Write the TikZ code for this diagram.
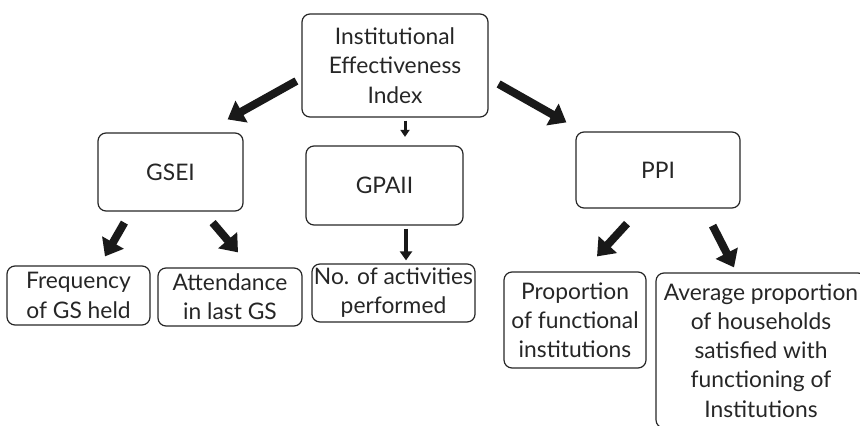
\documentclass[tikz,border=0pt]{standalone}
\usepackage{fontspec}
\setmainfont{Lato}
\usetikzlibrary{arrows.meta}
\tikzset{
  idx/.style={rectangle,draw=black!85,line width=.6pt,rounded corners=4pt,align=center,inner sep=1pt,text=black!85,font=\fontsize{11.4}{14.6}\selectfont},
  fat/.style={line width=4pt,black!90,-{Triangle[length=8pt,width=12pt]}},
  midarr/.style={line width=2.2pt,black!90,-{Triangle[length=4.5pt,width=6pt]}},
  thinarr/.style={line width=1.5pt,black!90,-{Triangle[length=3.5pt,width=4.5pt]}}
}
\begin{document}
\begin{tikzpicture}[x=0.5pt,y=-0.5pt]
  \useasboundingbox (0,0) rectangle (860,426);
  \clip (0,0) rectangle (860,426);
  % index and sub-indices
  \node[idx,minimum width=93pt,minimum height=51.5pt] (iei) at (395,65.5) {Institutional\\Effectiveness\\Index};
  \node[idx,minimum width=72.5pt,minimum height=39pt] (gsei) at (170.5,172) {GSEI};
  \node[idx,minimum width=78.5pt,minimum height=39.5pt] (gpaii) at (384.5,185.5) {GPAII};
  \node[idx,minimum width=82pt,minimum height=38pt] (ppi) at (658,170) {PPI};
  % indicators
  \node[idx,minimum width=71.5pt,minimum height=29.5pt] (freq) at (78.5,295.5) {Frequency\\of GS held};
  \node[idx,minimum width=72pt,minimum height=29pt] (att) at (230,297) {Attendance\\in last GS};
  \node[idx,minimum width=68pt,minimum height=29pt] (noact) at (393.5,293) {No. of activities\\performed};
  \node[idx,minimum width=71pt,minimum height=48pt] (prop) at (575,320) {Proportion\\of functional\\institutions};
  \node[idx,minimum width=105pt,minimum height=77.5pt] (avg) at (761,350.5) {Average proportion\\of households\\satisfied with\\functioning of\\Institutions};
  % arrows
  \draw[fat] ([shift={(-5,15.5)}]iei.west) -- ([shift={(-16,-13)}]gsei.north east);
  \draw[fat] ([shift={(10,18.5)}]iei.east) -- ([shift={(-9,-9)}]ppi.north west);
  \draw[thinarr] ([shift={(10,3)}]iei.south) -- ([shift={(20.5,-8.5)}]gpaii.north);
  \draw[midarr] ([shift={(21.5,3)}]gpaii.south) -- ([shift={(12.5,-3)}]noact.north);
  \draw[fat] ([shift={(27,11)}]gsei.south west) -- ([shift={(26.5,-9)}]freq.north);
  \draw[fat] ([shift={(-31,11)}]gsei.south east) -- ([shift={(8,-15)}]att.north);
  \draw[fat] ([shift={(-31,15)}]ppi.south) -- ([shift={(22,-15)}]prop.north);
  \draw[fat] ([shift={(-28,17)}]ppi.south east) -- ([shift={(-27,-5)}]avg.north);
\end{tikzpicture}
\end{document}
